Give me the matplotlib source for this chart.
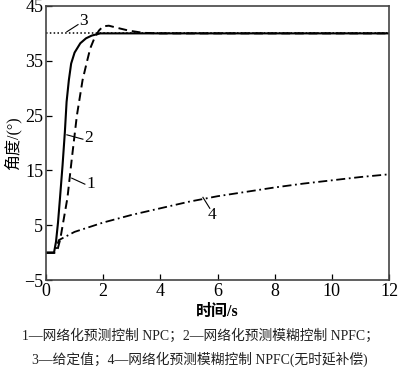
"""Step response comparison: NPC vs NPFC with / without delay compensation."""

import matplotlib

matplotlib.use("Agg")
import matplotlib.pyplot as plt

plt.rcParams["font.family"] = ["Liberation Serif", "Noto Sans CJK SC"]

# curve 1: NPC (dashed)
npc_t = [0, 0.3, 0.4, 0.5, 0.6, 0.7, 0.75, 0.9, 1.08, 1.28, 1.44, 1.55, 1.7,
         1.85, 2.0, 2.2, 2.5, 2.9, 3.4, 4.0, 12]
npc_y = [0, 0, 0.5, 2.5, 5.5, 8.5, 10, 17, 25, 31.5, 35, 37.3, 39.2,
         40.5, 41.3, 41.4, 41.0, 40.5, 40.1, 40, 40]

# curve 2: NPFC (solid)
npfc_t = [0, 0.28, 0.35, 0.42, 0.49, 0.58, 0.66, 0.72, 0.8, 0.88, 1.0, 1.2,
          1.4, 1.6, 1.9, 12]
npfc_y = [0, 0, 2, 5.5, 10, 16, 22, 27.5, 31.5, 34.5, 36.5, 38.2,
          39.1, 39.6, 40, 40]

# curve 3: set point (dotted)
ref_t = [0, 12]
ref_y = [40, 40]

# curve 4: NPFC without delay compensation (dash-dot)
nodelay_t = [0, 0.3, 0.45, 1, 2, 3, 4, 5, 6, 7, 8, 9, 10, 11, 12]
nodelay_y = [0, 0, 2.3, 3.8, 5.5, 6.9, 8.1, 9.3, 10.3, 11.1, 11.9, 12.6,
             13.2, 13.8, 14.3]

x_ticks = [0, 2, 4, 6, 8, 10, 12]
y_ticks = [-5, 5, 15, 25, 35, 45]

# label text, leader line start, leader line end, text anchor
curve_labels = [
    ("3", (0.73, 40.3), (1.12, 41.6), (1.15, 42.2)),
    ("2", (0.73, 21.5), (1.29, 20.7), (1.34, 20.9)),
    ("1", (0.9, 13.6), (1.36, 12.5), (1.4, 12.6)),
    ("4", (5.49, 10.1), (5.73, 8.1), (5.66, 6.8)),
]

caption = ["1—网络化预测控制 NPC；2—网络化预测模糊控制 NPFC；",
           "3—给定值；4—网络化预测模糊控制 NPFC(无时延补偿)"]

fig = plt.figure(figsize=(4.0, 3.73), dpi=100)
ax = fig.add_axes([0.115, 0.249, 0.8575, 0.735])

ax.plot(ref_t, ref_y, color="black", linestyle=(0, (1, 1.5)), linewidth=1.1)
ax.plot(nodelay_t, nodelay_y, color="black", linestyle=(0, (5, 2, 1, 2)),
        linewidth=1.3)
ax.plot(npc_t, npc_y, color="black", linestyle=(0, (4.5, 2.5)), linewidth=1.4)
ax.plot(npfc_t, npfc_y, color="black", linewidth=1.5)

for text, start, end, anchor in curve_labels:
    ax.plot([start[0], end[0]], [start[1], end[1]], color="black",
            linewidth=0.8)
    ax.text(anchor[0], anchor[1], text, fontsize=12.5, ha="left", va="center")

ax.set_xlim(0, 12)
ax.set_ylim(-5, 45)
ax.set_xticks(x_ticks)
ax.set_yticks(y_ticks)
ax.tick_params(direction="in", length=4, width=0.9, labelsize=13, pad=2)
for spine in ax.spines.values():
    spine.set_linewidth(1.2)
    spine.set_color("#444444")

ax.set_xlabel("时间/s", fontsize=11.5, fontweight="bold", labelpad=3)
ax.set_ylabel("角度/(°)", fontsize=11.5, labelpad=2)

fig.text(0.5, 1 - 336 / 373, caption[0], ha="center", va="center",
         fontsize=9.9, color="#222222")
fig.text(0.5, 1 - 359 / 373, caption[1], ha="center", va="center",
         fontsize=9.9, color="#222222")

fig.savefig("out.png", dpi=100)
plt.close(fig)
